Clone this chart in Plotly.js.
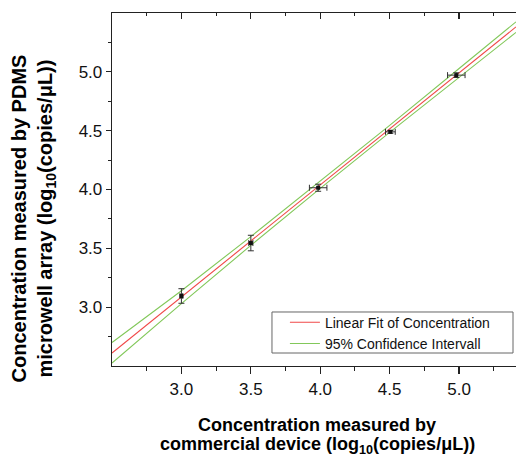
<!DOCTYPE html>
<html>
<head>
<meta charset="utf-8">
<script src="https://cdn.plot.ly/plotly-3.0.1.min.js"></script>
<style>html,body{margin:0;padding:0;overflow:hidden;background:#fff;}</style>
</head>
<body>
<div id="chart" style="width:516px;height:455px;"></div>
<script>
// measured points
const pointX = [3.00, 3.50, 3.985, 4.505, 4.98];
const pointY = [3.095, 3.545, 4.015, 4.49, 4.972];
const pointXErr = [0.01, 0.015, 0.063, 0.035, 0.063];
const pointYErr = [0.062, 0.066, 0.03, 0.012, 0.02];
// linear fit
const fitX = [2.5, 5.41];
const fitY = [2.61, 5.382];
// 95% confidence band
const bandX = [2.5, 3.0, 3.5, 4.0, 4.5, 5.0, 5.41];
const bandUpper = [2.70, 3.14, 3.60, 4.07, 4.545, 5.028, 5.425];
const bandLower = [2.525, 3.03, 3.525, 4.01, 4.485, 4.955, 5.335];
// ticks
const xTickVals = [3.0, 3.5, 4.0, 4.5, 5.0];
const xTickText = ['3.0', '3.5', '4.0', '4.5', '5.0'];
const yTickVals = [3.0, 3.5, 4.0, 4.5, 5.0];
const yTickText = ['3.0', '3.5', '4.0', '4.5', '5.0'];
const xRange = [2.5, 5.41];
const yRange = [2.5, 5.5];
// texts
const xTitleLines = ['<b>Concentration measured by</b>', '<b>commercial device (log<sub>10</sub>(copies/μL))</b>'];
const yTitle = '<b>Concentration measured by PDMS<br>microwell array (log<sub>10</sub>(copies/μL))</b>';
const fitName = 'Linear Fit of Concentration';
const bandName = '95% Confidence Intervall';

const FONT = 'Liberation Sans, Arial, sans-serif';
const AX = '#222';

const traces = [
  {
    x: fitX, y: fitY, type: 'scatter', mode: 'lines',
    name: fitName,
    line: {color: '#f04848', width: 1.1}
  },
  {
    x: bandX, y: bandUpper, type: 'scatter', mode: 'lines',
    name: bandName,
    line: {color: '#82c85a', width: 1.1}
  },
  {
    x: bandX, y: bandLower, type: 'scatter', mode: 'lines',
    name: bandName, showlegend: false,
    line: {color: '#82c85a', width: 1.1}
  },
  {
    x: pointX, y: pointY, type: 'scatter', mode: 'markers',
    name: 'Concentration', showlegend: false,
    marker: {symbol: 'square', size: 4, color: '#111'},
    error_x: {type: 'data', array: pointXErr, visible: true, color: '#333', thickness: 1, width: 3},
    error_y: {type: 'data', array: pointYErr, visible: true, color: '#333', thickness: 1, width: 3}
  },
  // invisible trace to activate the top axis
  {x: [xRange[0]], y: [yRange[0]], xaxis: 'x2', type: 'scatter', mode: 'markers',
   marker: {opacity: 0}, showlegend: false, hoverinfo: 'skip'}
];

const titleFont = {family: FONT, size: 18, color: '#000'};

const layout = {
  width: 516, height: 455,
  margin: {l: 112, r: 0, t: 13, b: 89},
  paper_bgcolor: '#fff', plot_bgcolor: '#fff',
  font: {family: FONT, color: '#111', size: 14},
  showlegend: true,
  legend: {
    x: 0.428, xanchor: 'left', y: 0.168, yanchor: 'top',
    borderwidth: 0, bgcolor: 'rgba(0,0,0,0)',
    font: {family: FONT, size: 14, color: '#111'},
    itemwidth: 30, tracegroupgap: 0
  },
  shapes: [{
    type: 'rect', xref: 'paper', yref: 'paper',
    x0: 0.396, x1: 0.9926, y0: 0.0368, y1: 0.153,
    line: {color: '#666', width: 1}, fillcolor: '#fff', layer: 'below'
  }],
  annotations: [
    {
      text: yTitle, xref: 'paper', yref: 'paper', x: 0, y: 0.418,
      xanchor: 'center', yanchor: 'middle', xshift: -79, textangle: -90,
      showarrow: false, font: {family: FONT, size: 20, color: '#000'}
    },
    {
      text: xTitleLines[0], xref: 'paper', yref: 'paper', x: 0.5, y: 0,
      xanchor: 'center', yanchor: 'middle', xshift: 3, yshift: -59,
      showarrow: false, font: titleFont
    },
    {
      text: xTitleLines[1], xref: 'paper', yref: 'paper', x: 0.5, y: 0,
      xanchor: 'center', yanchor: 'middle', xshift: 3, yshift: -79,
      showarrow: false, font: titleFont
    }
  ],
  xaxis: {
    range: xRange, tickmode: 'array', tickvals: xTickVals, ticktext: xTickText,
    ticks: 'outside', ticklen: 7, tickwidth: 1.2, tickcolor: AX,
    minor: {tickmode: 'linear', tick0: 2.75, dtick: 0.5, ticks: 'outside', ticklen: 4, tickwidth: 1, tickcolor: AX},
    showline: true, linecolor: AX, linewidth: 1.3,
    showgrid: false, zeroline: false,
    tickfont: {family: FONT, size: 17, color: '#111'},
    automargin: false
  },
  xaxis2: {
    range: xRange, overlaying: 'x', side: 'top', anchor: 'y',
    tickmode: 'array', tickvals: xTickVals, showticklabels: false,
    ticks: 'inside', ticklen: 6, tickwidth: 1.2, tickcolor: AX,
    minor: {tickmode: 'linear', tick0: 2.75, dtick: 0.5, ticks: 'inside', ticklen: 3, tickwidth: 1, tickcolor: AX},
    showline: true, linecolor: AX, linewidth: 1.3,
    showgrid: false, zeroline: false
  },
  yaxis: {
    range: yRange, tickmode: 'array', tickvals: yTickVals, ticktext: yTickText,
    ticks: 'outside', ticklen: 5, tickwidth: 1.2, tickcolor: AX,
    minor: {tickmode: 'linear', tick0: 2.75, dtick: 0.5, ticks: 'outside', ticklen: 3, tickwidth: 1, tickcolor: AX},
    showline: true, linecolor: AX, linewidth: 1.3,
    showgrid: false, zeroline: false,
    tickfont: {family: FONT, size: 17, color: '#111'},
    automargin: false
  }
};

Plotly.newPlot('chart', traces, layout, {displayModeBar: false, staticPlot: true});
</script>
</body>
</html>
